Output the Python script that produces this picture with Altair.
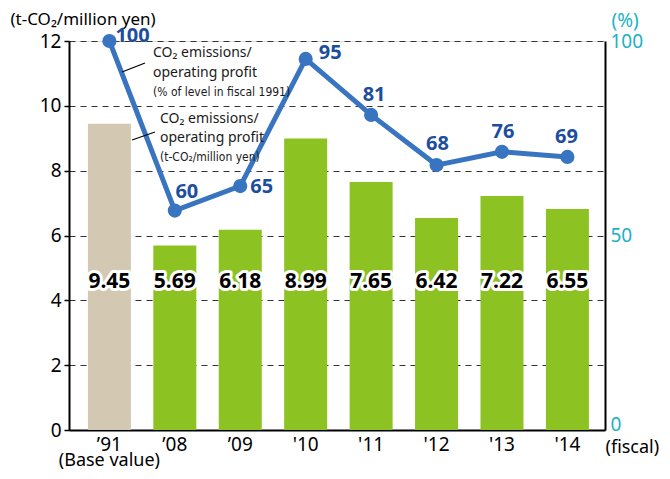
import altair as alt
import pandas as pd

# ---- data ----
years = ["’91", "’08", "’09", "'10", "'11", "'12", "'13", "'14"]
bar_values = [9.45, 5.69, 6.18, 8.99, 7.65, 6.54, 7.22, 6.82]
bar_labels = ["9.45", "5.69", "6.18", "8.99", "7.65", "6.42", "7.22", "6.55"]
line_values = [100, 56.4, 62.7, 95.4, 81.0, 68.1, 71.5, 70.2]
line_labels = ["100", "60", "65", "95", "81", "68", "76", "69"]
left_ticks = [0, 2, 4, 6, 8, 10, 12]
right_ticks = [0, 50, 100]

df = pd.DataFrame({
    "year": years,
    "bar": bar_values,
    "bar_label": bar_labels,
    "line": line_values,
    "line_label": line_labels,
})

BEIGE = "#D3C9B3"
GREEN = "#8CC221"
BLUE = "#3874C0"
DARKBLUE = "#1C4E9D"
TEAL = "#1AB2C4"
FONT = "Noto Sans"
NARROW = "'DejaVu Sans Condensed', 'Noto Sans', sans-serif"

x_scale = alt.Scale(paddingInner=0.343, paddingOuter=0.2675, align=0.54)
x_axis = alt.Axis(
    title="(fiscal)", titleX=536, titleY=17, titleAlign="left", titleBaseline="middle",
    titleFontSize=18, titleFontWeight="normal", titleColor="black", titleFont=FONT,
    labelFontSize=19, labelColor="black", labelPadding=5, labelAngle=0, labelFont=FONT,
    ticks=False, domainColor="black", domainWidth=2,
)
x_enc = alt.X("year:N", sort=years, scale=x_scale, axis=x_axis)

# ---- left (bars) ----
bars = alt.Chart(df).mark_bar().encode(
    x=x_enc,
    y=alt.Y(
        "bar:Q",
        scale=alt.Scale(domain=[0, 12], nice=False, zero=True),
        axis=alt.Axis(
            values=left_ticks, title="(t-CO₂/million yen)", titleAngle=0,
            titleX=-59, titleY=-22, titleAlign="left", titleBaseline="middle",
            titleFontSize=17, titleFontWeight="normal", titleColor="black", titleFont=FONT,
            labelFontSize=19, labelPadding=3, labelColor="black", labelFont=FONT,
            tickSize=5, tickColor="black", tickWidth=1.5,
            domainColor="black", domainWidth=2,
            grid=True, gridDash=[6, 5], gridColor="#333333", gridWidth=1,
        ),
    ),
    color=alt.condition(alt.datum.year == "’91", alt.value(BEIGE), alt.value(GREEN)),
)

bar_halo = alt.Chart(df).mark_text(
    font=FONT, fontSize=21, fontWeight="bold", color="white",
    stroke="white", strokeWidth=6, strokeJoin="round", baseline="middle",
).encode(x=x_enc, y=alt.value(241), text="bar_label:N")

bar_text = alt.Chart(df).mark_text(
    font=FONT, fontSize=21, fontWeight="bold", color="black", baseline="middle",
).encode(x=x_enc, y=alt.value(241), text="bar_label:N")

base_df = pd.DataFrame({"year": ["’91"], "t": ["(Base value)"]})
base_text = alt.Chart(base_df).mark_text(
    font=FONT, fontSize=18, color="black", baseline="middle",
).encode(x=x_enc, y=alt.value(420), text="t:N")

left = alt.layer(bars, bar_halo, bar_text, base_text)

# ---- right (line) ----
y_right = alt.Y(
    "line:Q",
    scale=alt.Scale(domain=[0, 100], nice=False, zero=True),
    axis=alt.Axis(
        orient="right", values=right_ticks, title="(%)", titleAngle=0,
        titleX=6, titleY=-21, titleAlign="left", titleBaseline="middle",
        titleFontSize=19, titleFontWeight="normal", titleColor=TEAL, titleFont=FONT,
        labelFontSize=19, labelColor=TEAL, labelPadding=5, labelFont=FONT,
        labelBaseline={"condition": {"test": "datum.value === 0", "value": "alphabetic"},
                       "value": "middle"},
        ticks=False, domainColor="black", domainWidth=2, grid=False,
    ),
)

line = alt.Chart(df).mark_line(color=BLUE, strokeWidth=5).encode(x=x_enc, y=y_right)
pts = alt.Chart(df).mark_circle(color=BLUE, size=200, opacity=1).encode(x=x_enc, y=y_right)

label_offsets = {
    "’91": (6, -5, "left"),
    "’08": (12, -19, "center"),
    "’09": (10, 1, "left"),
    "'10": (13, -6, "left"),
    "'11": (3, -20, "center"),
    "'12": (1, -21, "center"),
    "'13": (1, -20, "center"),
    "'14": (-1, -20, "center"),
}
label_layers = []
for yr, (dx, dy, al) in label_offsets.items():
    label_layers.append(
        alt.Chart(df).transform_filter(alt.datum.year == yr).mark_text(
            font=FONT, fontSize=20, fontWeight="bold", color=DARKBLUE,
            align=al, baseline="middle", dx=dx, dy=dy,
        ).encode(x=x_enc, y=y_right, text="line_label:N")
    )

right = alt.layer(line, pts, *label_layers)

# ---- annotations ----
ann1 = ["CO₂ emissions/", "operating profit"]
ann1_small = "(% of level in fiscal 1991)"
ann2 = ["CO₂ emissions/", "operating profit"]
ann2_small = "(t-CO₂/million yen)"

annots = []
def txt(s, x, y, size, font):
    return alt.Chart(pd.DataFrame({"t": [s]})).mark_text(
        font=font, fontSize=size, color="#1a1a1a", align="left", baseline="middle",
    ).encode(x=alt.value(x), y=alt.value(y), text="t:N")

annots.append(txt(ann1[0], 84, 12, 14, FONT))
annots.append(txt(ann1[1], 84, 32, 14, FONT))
annots.append(txt(ann1_small, 84, 51, 12, NARROW))
annots.append(txt(ann2[0], 91, 78, 14, FONT))
annots.append(txt(ann2[1], 91, 97, 14, FONT))
annots.append(txt(ann2_small, 91, 116, 12, NARROW))

lead_df = pd.DataFrame({"k": [0]})
annots.append(alt.Chart(lead_df).mark_rule(color="black", strokeWidth=1.3).encode(
    x=alt.value(53), x2=alt.value(76), y=alt.value(31), y2=alt.value(22)))
annots.append(alt.Chart(lead_df).mark_rule(color="black", strokeWidth=1.3).encode(
    x=alt.value(63), x2=alt.value(86), y=alt.value(99), y2=alt.value(91)))

chart = alt.layer(left, right, *annots).resolve_scale(y="independent").properties(
    width=536, height=389,
    autosize=alt.AutoSizeParams(type="none"),
    padding={"left": 61, "top": 33, "right": 54, "bottom": 41},
).configure_view(stroke=None).configure(font=FONT)

chart.save("out.html", embed_options={"renderer": "svg", "actions": False})
